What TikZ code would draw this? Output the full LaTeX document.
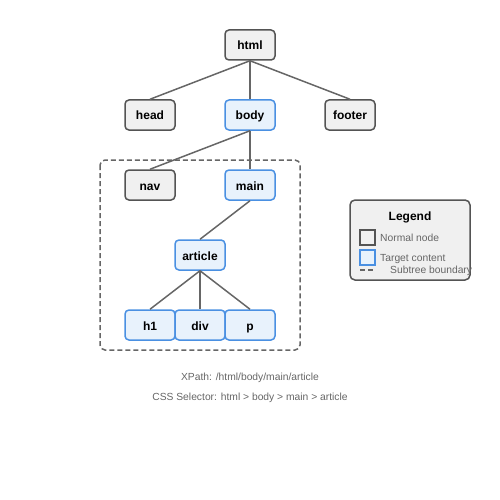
\documentclass[tikz,border=0pt]{standalone}
\usepackage{fontspec}
\setmainfont{Liberation Sans}
\begin{document}
\begin{tikzpicture}[x=1pt,y=-1pt]
\definecolor{tblue}{HTML}{4A90E2}
\definecolor{tfill}{HTML}{E8F2FC}
\tikzset{
  normalnode/.style={draw=black!67, fill=black!6, line width=1.5pt, rounded corners=4pt,
    minimum width=50pt, minimum height=30pt, inner sep=0pt, text height=10pt, text depth=0pt,
    font=\fontsize{12}{14}\selectfont\bfseries, text=black},
  targetnode/.style={normalnode, draw=tblue, fill=tfill},
  edge/.style={draw=black!60, line width=1.5pt},
  smalltext/.style={font=\fontsize{10.3}{12}\selectfont, text=black!60, inner sep=0pt}}
\useasboundingbox (0,0) rectangle (500,500);
% subtree boundary
\draw[black!60, line width=1.5pt, dash pattern=on 5pt off 3pt, rounded corners=5pt] (100,160) rectangle (300,350);
% nodes
\node[normalnode] (html) at (250,45) {html};
\node[normalnode] (head) at (150,115) {head};
\node[targetnode] (body) at (250,115) {body};
\node[normalnode] (footer) at (350,115) {footer};
\node[normalnode] (nav) at (150,185) {nav};
\node[targetnode] (main) at (250,185) {main};
\node[targetnode] (article) at (200,255) {article};
\node[targetnode] (h1) at (150,325) {h1};
\node[targetnode] (div) at (200,325) {div};
\node[targetnode] (p) at (250,325) {p};
% edges
\draw[edge] (html.south) -- (head.north);
\draw[edge] (html.south) -- (body.north);
\draw[edge] (html.south) -- (footer.north);
\draw[edge] (body.south) -- (nav.north);
\draw[edge] (body.south) -- (main.north);
\draw[edge] (main.south) -- (article.north);
\draw[edge] (article.south) -- (h1.north);
\draw[edge] (article.south) -- (div.north);
\draw[edge] (article.south) -- (p.north);
% legend
\node[draw=black!67, fill=black!6, line width=1.5pt, rounded corners=5pt, minimum width=120pt, minimum height=80pt, inner sep=0pt] (legend) at (410,240) {};
\node[font=\fontsize{12}{14}\selectfont\bfseries, inner sep=0pt, anchor=base] (legtitle) at (410,220.5) {Legend};
\node[draw=black!67, fill=black!6, line width=1.5pt, minimum width=15pt, minimum height=15pt, inner sep=0pt] (legnormal) at (367.5,237.5) {};
\node[smalltext, anchor=base west] (legnormaltxt) at (380,241.5) {Normal node};
\node[draw=tblue, fill=tfill, line width=1.5pt, minimum width=15pt, minimum height=15pt, inner sep=0pt] (legtarget) at (367.5,257.5) {};
\node[smalltext, anchor=base west] (legtargettxt) at (380,261.5) {Target content};
\coordinate (dashA) at (360,270);
\coordinate (dashB) at (373,270);
\draw[black!60, line width=1.5pt, dash pattern=on 5pt off 3pt] (dashA) -- (dashB);
\node[smalltext, anchor=base west] (legdashtxt) at (390,273.5) {Subtree boundary};
% bottom texts
\node[smalltext, anchor=base] (xpath) at (250,380) {XPath: /html/body/main/article};
\node[smalltext, anchor=base] (css) at (250,400) {CSS Selector: html > body > main > article};
\end{tikzpicture}
\end{document}
